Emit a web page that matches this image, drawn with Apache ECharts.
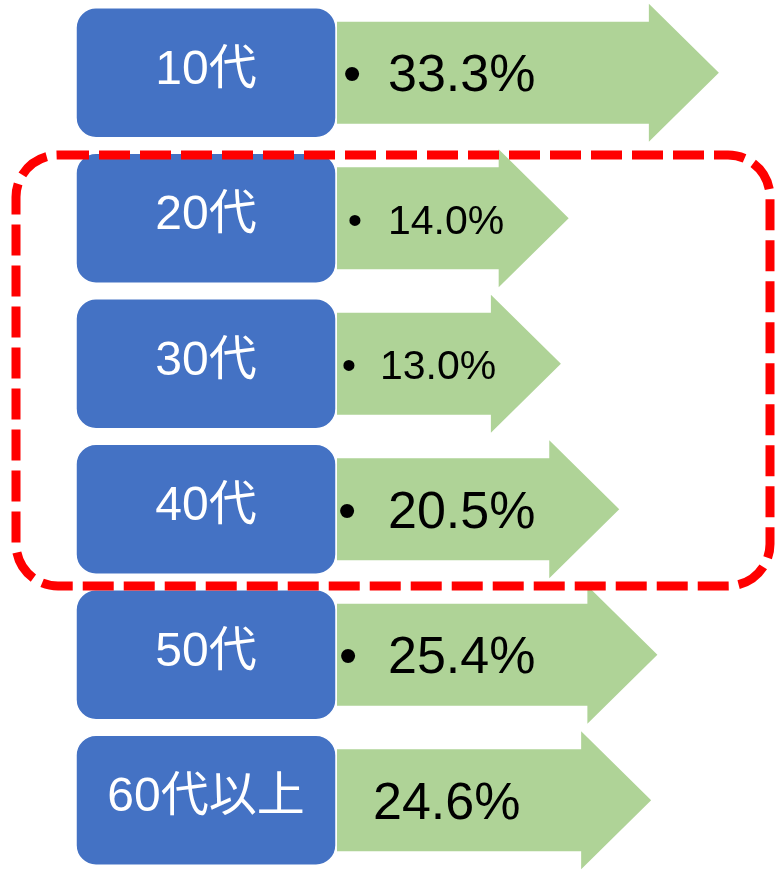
<!DOCTYPE html>
<html>
<head>
<meta charset="utf-8">
<script src="https://cdn.jsdelivr.net/npm/echarts@6/dist/echarts.min.js"></script>
<style>
html,body{margin:0;padding:0;background:#fff;}
#chart{width:781px;height:873px;}
</style>
</head>
<body>
<div id="chart"></div>
<script>
// ---- data ----
const categories = ['10代', '20代', '30代', '40代', '50代', '60代以上'];
const values = [33.3, 14.0, 13.0, 20.5, 25.4, 24.6];
const valueLabels = ['33.3%', '14.0%', '13.0%', '20.5%', '25.4%', '24.6%'];

// ---- styling / layout (not data) ----
const BLUE = '#4472C4';
const GREEN = '#AFD397';
const boxLeft = 76, boxRight = 336, boxHalfH = 65;
const bodyLeft = 337, bodyHalf = 51, headHalf = 69, headLen = 70;
const valueFontSize = [52, 41, 41, 52, 52, 52];
const valueTextX = [388, 388, 380, 388, 388, 373];
const bulletX = [352, 355, 349, 347, 348, null];

const chart = echarts.init(document.getElementById('chart'), null, {renderer: 'canvas'});

const option = {
  animation: false,
  backgroundColor: '#ffffff',
  grid: {left: 343, right: 10, top: 0, bottom: 0, containLabel: false},
  xAxis: {type: 'value', min: -15, max: 40, show: false},
  yAxis: {type: 'category', data: categories, inverse: true, show: false},
  series: [{
    type: 'custom',
    data: values.map((v, i) => [v, i]),
    renderItem: function (params, api) {
      const i = api.value(1);
      const p = api.coord([api.value(0), i]);
      const tip = p[0], cy = p[1];
      const headStart = tip - headLen;
      const children = [];
      // arrow
      children.push({
        type: 'polygon',
        shape: {points: [
          [bodyLeft, cy - bodyHalf], [headStart, cy - bodyHalf], [headStart, cy - headHalf],
          [tip, cy], [headStart, cy + headHalf], [headStart, cy + bodyHalf], [bodyLeft, cy + bodyHalf]
        ]},
        style: {fill: GREEN}
      });
      // box
      children.push({
        type: 'rect',
        shape: {x: boxLeft, y: cy - boxHalfH, width: boxRight - boxLeft, height: boxHalfH * 2, r: 20},
        style: {fill: BLUE, stroke: '#ffffff', lineWidth: 1.5}
      });
      children.push({
        type: 'text',
        style: {
          x: (boxLeft + boxRight) / 2, y: cy - 2,
          text: categories[i],
          fill: '#ffffff',
          font: '48px "Liberation Sans", "Noto Sans CJK JP", sans-serif',
          align: 'center', verticalAlign: 'middle'
        }
      });
      if (bulletX[i] !== null) {
        children.push({
          type: 'text',
          style: {
            x: bulletX[i], y: cy + 4,
            text: '•',
            fill: '#000000',
            font: valueFontSize[i] + 'px "Liberation Sans", sans-serif',
            align: 'center', verticalAlign: 'middle'
          }
        });
      }
      children.push({
        type: 'text',
        style: {
          x: valueTextX[i], y: cy + 4,
          text: valueLabels[i],
          fill: '#000000',
          font: valueFontSize[i] + 'px "Liberation Sans", sans-serif',
          align: 'left', verticalAlign: 'middle'
        }
      });
      return {type: 'group', children: children};
    }
  }],
  graphic: [{
    type: 'rect',
    z: 100,
    shape: {x: 16, y: 155, width: 754, height: 431, r: 42},
    style: {fill: 'none', stroke: '#FF0000', lineWidth: 9, lineDash: [31, 10]}
  }]
};
chart.setOption(option);
</script>
</body>
</html>
